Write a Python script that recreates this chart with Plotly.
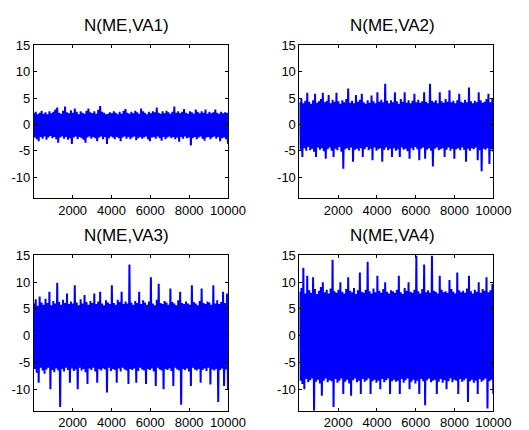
import numpy as np
import plotly.graph_objects as go

# Sample-index span of each noise record
n_samples = 10000

titles = ["N(ME,VA1)", "N(ME,VA2)", "N(ME,VA3)", "N(ME,VA4)"]

# Upper excursions (peaks) and lower excursions (troughs),
# left to right, 100 of each across the 10000 samples.
va1_peaks = [2.1, 2.4, 1.9, 2.2, 2.6, 2.0, 2.3, 1.9, 2.5, 2.1,
             2.4, 2.8, 3.2, 2.2, 2.0, 2.6, 3.4, 2.3, 2.1, 2.7,
             2.2, 3.0, 2.4, 1.9, 2.5, 2.2, 2.0, 2.6, 3.0, 2.3,
             2.1, 2.5, 2.0, 2.8, 3.5, 2.4, 2.2, 1.9, 2.0, 2.3,
             2.1, 2.5, 2.2, 1.9, 2.4, 2.0, 2.6, 2.9, 2.2, 2.0,
             2.4, 2.1, 2.6, 2.3, 2.0, 3.0, 2.5, 2.2, 1.9, 2.4,
             2.1, 2.5, 2.3, 3.2, 2.2, 2.0, 2.5, 2.1, 2.6, 2.3,
             2.0, 2.4, 3.4, 2.2, 2.5, 2.1, 2.4, 2.9, 2.2, 2.0,
             2.5, 2.3, 2.0, 2.8, 2.4, 2.1, 2.5, 2.2, 2.8, 2.0,
             2.4, 2.1, 2.3, 2.8, 2.2, 2.0, 2.4, 2.1, 2.3, 2.2]
va1_troughs = [-2.5, -2.8, -3.2, -2.4, -2.7, -2.3, -2.9, -2.5, -2.2, -2.6,
               -2.4, -2.8, -3.5, -2.5, -2.3, -2.7, -2.4, -2.9, -2.6, -3.7,
               -2.5, -2.3, -2.8, -2.4, -2.6, -2.9, -3.5, -2.5, -2.3, -2.7,
               -2.4, -2.6, -3.2, -2.5, -2.3, -2.8, -2.4, -3.7, -2.6, -2.3,
               -2.5, -2.8, -2.4, -2.6, -3.2, -2.5, -2.3, -2.7, -2.4, -2.8,
               -2.5, -2.3, -3.0, -2.6, -2.4, -2.7, -2.5, -2.3, -2.8, -3.2,
               -2.5, -2.4, -2.7, -2.3, -2.6, -3.1, -2.4, -2.8, -2.5, -2.3,
               -2.6, -2.4, -2.8, -2.5, -3.3, -2.4, -2.7, -2.3, -2.6, -2.5,
               -4.0, -2.6, -2.4, -2.8, -2.5, -2.3, -2.7, -3.1, -2.5, -2.4,
               -2.8, -2.5, -2.3, -2.7, -2.4, -3.2, -2.6, -2.5, -2.8, -3.7]

va2_peaks = [4.2, 4.9, 4.0, 4.5, 6.0, 4.3, 3.9, 4.6, 5.8, 4.1,
             4.4, 4.8, 6.0, 4.2, 4.5, 5.6, 4.0, 4.7, 4.3, 6.0,
             4.4, 3.9, 4.6, 4.2, 4.8, 6.8, 4.1, 4.5, 4.0, 5.6,
             4.3, 4.7, 5.8, 4.2, 3.9, 4.6, 4.1, 5.5, 4.4, 4.0,
             6.1, 4.3, 4.7, 4.2, 7.7, 4.5, 4.0, 4.6, 4.2, 6.1,
             4.4, 3.9, 4.8, 4.3, 6.1, 4.1, 4.6, 4.0, 4.5, 5.8,
             4.2, 4.7, 4.1, 4.4, 6.1, 4.3, 4.0, 7.7, 4.5, 4.2,
             4.6, 4.0, 6.1, 4.4, 4.1, 4.8, 4.3, 6.5, 4.2, 4.5,
             4.0, 4.6, 5.8, 4.3, 4.1, 4.7, 4.2, 7.0, 4.4, 4.0,
             4.5, 4.2, 6.1, 4.6, 4.1, 4.3, 4.8, 5.8, 4.2, 4.9]
va2_troughs = [-4.8, -6.2, -4.5, -5.0, -4.3, -4.9, -4.6, -5.2, -6.2, -4.4,
               -4.8, -4.5, -5.1, -6.5, -4.7, -4.4, -5.0, -6.2, -4.6, -4.9,
               -4.3, -5.2, -8.4, -4.7, -4.5, -4.9, -4.4, -7.1, -4.8, -4.6,
               -5.0, -4.5, -6.2, -4.7, -4.3, -4.9, -4.6, -6.8, -4.4, -5.0,
               -4.7, -4.5, -7.1, -4.8, -4.4, -4.9, -4.6, -6.2, -4.5, -5.0,
               -4.7, -6.2, -4.4, -4.8, -4.6, -5.1, -6.5, -4.5, -4.9, -4.3,
               -4.7, -6.8, -4.6, -4.4, -6.5, -4.8, -4.5, -5.0, -8.0, -4.6,
               -4.4, -4.9, -4.7, -4.5, -6.2, -4.8, -4.4, -5.0, -4.6, -6.5,
               -4.7, -4.5, -4.9, -4.4, -4.8, -7.1, -4.6, -5.0, -4.5, -4.7,
               -4.4, -6.8, -4.9, -8.9, -4.6, -4.8, -4.5, -7.5, -4.7, -5.2]

va3_peaks = [6.0, 6.8, 5.6, 7.3, 6.2, 5.8, 6.9, 6.1, 8.2, 5.7,
             6.5, 6.0, 9.9, 6.3, 5.8, 6.7, 6.1, 7.9, 5.9, 6.4,
             6.0, 9.4, 6.2, 5.7, 6.8, 6.0, 7.6, 6.3, 5.8, 6.5,
             6.1, 7.9, 5.9, 6.4, 8.2, 6.0, 5.7, 6.6, 6.2, 5.9,
             9.4, 6.1, 5.8, 6.7, 6.3, 8.2, 5.9, 6.4, 6.0, 13.3,
             6.2, 5.8, 6.5, 6.1, 8.2, 5.9, 6.6, 6.2, 5.8, 6.4,
             10.9, 6.0, 5.7, 6.7, 9.7, 6.1, 5.9, 6.5, 6.2, 5.8,
             8.8, 6.3, 6.0, 5.7, 6.6, 8.2, 6.1, 5.9, 6.4, 6.0,
             5.8, 9.4, 6.3, 6.0, 5.7, 6.5, 8.8, 6.1, 5.9, 6.4,
             6.2, 5.8, 9.4, 6.0, 6.6, 5.9, 6.3, 8.2, 6.1, 7.9]
va3_troughs = [-6.2, -6.9, -8.8, -6.0, -6.5, -7.1, -6.3, -6.0, -10.0, -6.4,
               -6.8, -6.1, -6.5, -13.3, -6.2, -6.7, -6.0, -6.4, -8.8, -6.1,
               -6.6, -6.3, -10.0, -6.0, -6.5, -6.2, -6.8, -9.0, -6.1, -6.4,
               -6.0, -6.7, -8.8, -6.2, -6.5, -6.1, -6.3, -10.6, -6.0, -6.6,
               -6.2, -6.4, -8.8, -6.1, -6.7, -6.0, -6.3, -6.5, -9.0, -6.2,
               -6.4, -6.1, -8.8, -6.6, -6.0, -6.3, -6.5, -9.0, -6.2, -6.4,
               -6.1, -6.7, -9.4, -6.0, -6.3, -6.5, -10.0, -6.2, -6.4, -6.1,
               -6.6, -9.4, -6.0, -6.3, -6.5, -12.9, -6.2, -6.4, -6.1, -6.7,
               -9.4, -6.0, -6.3, -6.5, -6.2, -8.8, -6.4, -6.1, -6.6, -6.0,
               -9.1, -6.3, -6.5, -6.2, -12.4, -6.4, -6.1, -9.4, -6.3, -10.0]

va4_peaks = [8.2, 8.9, 12.7, 7.9, 11.2, 8.5, 8.0, 10.9, 8.7, 7.8,
             8.4, 9.1, 10.0, 8.1, 8.6, 7.9, 8.8, 14.2, 8.3, 8.0,
             8.6, 10.0, 8.2, 7.9, 8.7, 10.9, 8.4, 8.1, 8.9, 7.8,
             8.5, 11.8, 8.2, 8.0, 8.6, 13.8, 8.3, 7.9, 8.8, 8.1,
             11.2, 8.4, 8.0, 8.7, 10.0, 8.2, 7.9, 8.5, 8.3, 8.0,
             8.6, 11.2, 8.1, 7.8, 8.9, 8.4, 10.0, 8.2, 8.0, 8.6,
             15.0, 8.3, 7.9, 8.7, 13.3, 8.1, 8.5, 8.0, 15.0, 8.4,
             8.2, 7.9, 11.2, 8.6, 8.1, 8.3, 8.0, 10.4, 8.7, 8.2,
             7.9, 11.8, 8.5, 8.1, 8.4, 8.0, 8.8, 11.2, 8.3, 7.9,
             8.6, 8.2, 10.0, 8.0, 8.7, 8.4, 10.9, 8.1, 8.5, 9.7]
va4_troughs = [-8.4, -9.0, -10.0, -8.1, -8.7, -8.3, -8.0, -14.0, -8.6, -8.2,
               -8.9, -11.2, -8.4, -8.0, -8.7, -8.3, -8.5, -13.3, -8.1, -8.8,
               -8.4, -8.0, -10.9, -8.6, -8.2, -8.9, -11.2, -8.3, -8.0, -8.7,
               -8.4, -10.9, -8.1, -8.6, -8.3, -8.0, -10.9, -8.5, -8.2, -8.8,
               -8.4, -10.0, -8.1, -8.7, -8.3, -8.0, -10.9, -8.5, -8.2, -8.6,
               -8.4, -10.9, -8.1, -8.8, -8.3, -8.0, -10.0, -8.6, -8.2, -8.9,
               -8.4, -10.9, -8.1, -8.5, -13.0, -8.3, -8.0, -8.7, -8.4, -8.2,
               -10.9, -8.6, -8.1, -8.8, -8.3, -10.0, -8.5, -8.0, -8.7, -8.2,
               -8.4, -10.9, -8.1, -8.6, -8.3, -8.0, -12.4, -8.5, -8.2, -8.8,
               -8.4, -10.9, -8.1, -8.6, -8.3, -8.0, -13.6, -8.5, -8.2, -10.9]

peaks = [va1_peaks, va2_peaks, va3_peaks, va4_peaks]
troughs = [va1_troughs, va2_troughs, va3_troughs, va4_troughs]

x_ticks = [2000, 4000, 6000, 8000, 10000]
x_ticklabels = ["2000", "4000", "6000", "8000", "10000"]
y_ticks = [-10, -5, 0, 5, 10, 15]
y_ticklabels = ["-10", "-5", "0", "5", "10", "15"]
y_range = [-14, 15]

W, H = 529, 430
# panel pixel boxes: (left, right, top, bottom)
boxes = [(35, 236, 39.3, 195.7), (310, 510.7, 39.3, 195.7),
         (35, 236, 254.3, 413.3), (310, 510.7, 254.3, 413.3)]

fig = go.Figure()
annotations = []
for i in range(4):
    # interleave peaks and troughs into a single record
    y = []
    for p, t in zip(peaks[i], troughs[i]):
        y.append(p)
        y.append(t)
    x = np.linspace(1, n_samples, len(y))
    xa = "x" if i == 0 else f"x{i+1}"
    ya = "y" if i == 0 else f"y{i+1}"
    fig.add_trace(go.Scatter(x=x, y=y, mode="lines", xaxis=xa, yaxis=ya,
                             line=dict(color="#0000FF", width=2),
                             showlegend=False, hoverinfo="skip"))
    l, r, t, b = boxes[i]
    axis_common = dict(showline=True, linecolor="black", linewidth=1,
                       mirror="ticks", ticks="inside", ticklen=3,
                       tickcolor="black", showgrid=False, zeroline=False,
                       tickfont=dict(family="Liberation Sans, Arial", size=13,
                                     color="black"))
    fig.update_layout(**{
        ("xaxis" if i == 0 else f"xaxis{i+1}"): dict(
            domain=[l / W, r / W], range=[1, n_samples], tickvals=x_ticks,
            ticktext=x_ticklabels, anchor=ya, **axis_common),
        ("yaxis" if i == 0 else f"yaxis{i+1}"): dict(
            domain=[1 - b / H, 1 - t / H], range=y_range, tickvals=y_ticks,
            ticktext=y_ticklabels, anchor=xa, **axis_common),
    })
    annotations.append(dict(text=titles[i], x=(l + r) / 2 / W - 0.008,
                            y=1 - (t - 20) / H, xref="paper", yref="paper",
                            xanchor="center", yanchor="middle", showarrow=False,
                            font=dict(family="Liberation Sans, Arial", size=17,
                                      color="black")))

fig.update_layout(width=W, height=H, margin=dict(l=0, r=0, t=0, b=0),
                  paper_bgcolor="white", plot_bgcolor="white",
                  annotations=annotations)
fig.write_html("out.html")
